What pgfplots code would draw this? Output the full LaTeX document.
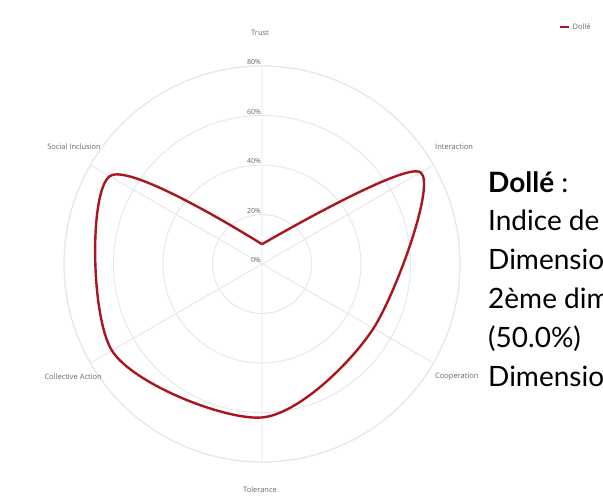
\documentclass[border=0pt]{standalone}
\usepackage{fontspec}
\setmainfont{Open Sans}
\newfontfamily\notefont{Lato}
\usepackage{pgfplots}
\pgfplotsset{compat=1.18}
\usepgfplotslibrary{polar}
\definecolor{gridc}{RGB}{230,230,230}
\definecolor{labc}{RGB}{102,102,102}
\definecolor{dolle}{RGB}{170,22,32}

\begin{document}
\begin{tikzpicture}
\clip (0pt,0pt) rectangle (603pt,-499pt);
\fill[white] (0pt,0pt) rectangle (603pt,-499pt);
\begin{polaraxis}[
  at={(262pt,-264pt)}, anchor=origin,
  width=396pt, height=396pt, scale only axis,
  ymin=0, ymax=80,
  xtick={30,90,150,210,270,330},
  ytick={0,20,40,60,80},
  xticklabels={}, yticklabels={},
  major tick length=0pt,
  grid=major,
  major grid style={draw=gridc, line width=0.9pt},
  x axis line style={draw=gridc, line width=0.9pt},
  y axis line style={draw=none},
  clip=false,
  legend style={at={(1.25,1.098)}, anchor=west, draw=none, fill=none,
    font=\fontsize{7.5}{8}\selectfont\color{labc}, inner sep=0pt},
  legend image code/.code={\draw[#1, line width=2.5pt] (0pt,0pt) -- (9pt,0pt);},
]
% Trust, Interaction, Cooperation, Tolerance, Collective Action, Social Inclusion, Trust
\addplot[draw=dolle, line width=2.4pt, smooth, tension=0.5, no markers]
  coordinates {(90,8) (30,74) (-30,52) (-90,62) (-150,70) (-210,71) (-270,8)};
\addlegendentry{Dollé}

\foreach \v in {0,20,40,60,80} {
  \edef\tmp{\noexpand\node[anchor=south east, inner sep=0pt, font=\noexpand\fontsize{7}{8}\noexpand\selectfont, text=labc]
    at (axis cs:90,\v) [xshift=-1pt, yshift=1pt] {\v\noexpand\%};}
  \tmp
}
\end{polaraxis}

\begin{scope}[font=\fontsize{7.5}{9}\selectfont, text=labc, inner sep=0pt]
\node at (260pt,-33pt) {Trust};
\node[anchor=west] at (435pt,-147pt) {Interaction};
\node[anchor=west] at (435pt,-377pt) {Cooperation};
\node at (260pt,-490pt) {Tolerance};
\node[anchor=east] at (102pt,-377pt) {Collective Action};
\node[anchor=east] at (101pt,-147pt) {Social Inclusion};
\end{scope}

\begin{scope}[font=\notefont\fontsize{28}{34}\selectfont, inner sep=0pt]
\node[anchor=base west] at (488pt,-192pt) {\textbf{Dollé} :};
\node[anchor=base west] at (488pt,-230.8pt) {Indice de};
\node[anchor=base west] at (488pt,-269.6pt) {Dimension};
\node[anchor=base west] at (488pt,-308.4pt) {2ème dimension};
\node[anchor=base west] at (488pt,-347.2pt) {(50.0\%)};
\node[anchor=base west] at (488pt,-386pt) {Dimension};
\end{scope}
\end{tikzpicture}
\end{document}
